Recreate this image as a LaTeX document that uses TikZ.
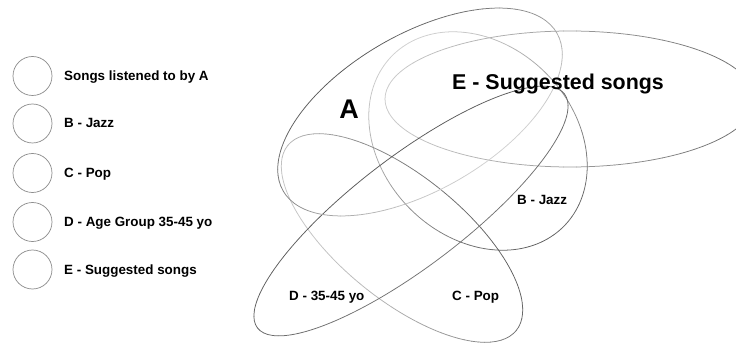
\documentclass[tikz,border=0pt]{standalone}
\usepackage{fontspec}
\setmainfont{Liberation Sans}
\begin{document}
\begin{tikzpicture}[x=1pt,y=1pt,
  legcirc/.style={circle, draw=black!45, line width=0.7pt, minimum size=39pt, inner sep=0pt},
  legtext/.style={anchor=base west, inner sep=0pt, font=\bfseries\fontsize{13.4}{15}\selectfont},
  lbl/.style={anchor=base west, inner sep=0pt, font=\bfseries\fontsize{13.4}{15}\selectfont},
]
\newcommand{\gellipse}[8]{%
  \begin{scope}[shift={(#1,#2)}, rotate=#5]
  \foreach \t in {0,4,...,356}{
    \pgfmathsetmacro{\pp}{#8+(#7-#8)*(1+cos(\t+2-#6))/2}
    \draw[draw=black!\pp, line width=0.75pt, line cap=round] (\t:#3pt and #4pt) arc[start angle=\t, delta angle=4, x radius=#3pt, y radius=#4pt];
  }
  \end{scope}}
\useasboundingbox (0,0) rectangle (736,343);
\fill[white] (0,0) rectangle (736,343);
% legend
\node[legcirc] (c1) at (32.5,267) {};
\node[legcirc] (c2) at (32.5,219.5) {};
\node[legcirc] (c3) at (32.5,170) {};
\node[legcirc] (c4) at (32.5,121) {};
\node[legcirc] (c5) at (32.5,73.5) {};
\node[legtext] (t1) at (64,262.5) {Songs listened to by A};
\node[legtext] (t2) at (64,215) {B - Jazz};
\node[legtext] (t3) at (64,165) {C - Pop};
\node[legtext] (t4) at (64,116.5) {D - Age Group 35-45 yo};
\node[legtext] (t5) at (64,69) {E - Suggested songs};
% ellipses
\gellipse{570}{244}{185}{68}{0}{0}{58}{20}   % E
\gellipse{478}{202}{121}{96}{-45}{-10}{62}{18} % B
\gellipse{402}{105}{147}{62}{-39}{45}{62}{22}  % C
\gellipse{411}{132}{193}{55}{37.3}{90}{65}{55} % D
\gellipse{420}{231}{158}{78}{30}{110}{65}{18} % A
% labels
\node[anchor=base, inner sep=0pt, font=\bfseries\fontsize{27}{30}\selectfont] (la) at (349,224) {A};
\node[anchor=base west, inner sep=0pt, font=\bfseries\fontsize{21.4}{24}\selectfont] (le) at (452,253.7) {E - Suggested songs};
\node[lbl] (lb) at (517,139) {B - Jazz};
\node[lbl] (lc) at (452,43) {C - Pop};
\node[lbl] (ld) at (289,43) {D - 35-45 yo};
\end{tikzpicture}
\end{document}
